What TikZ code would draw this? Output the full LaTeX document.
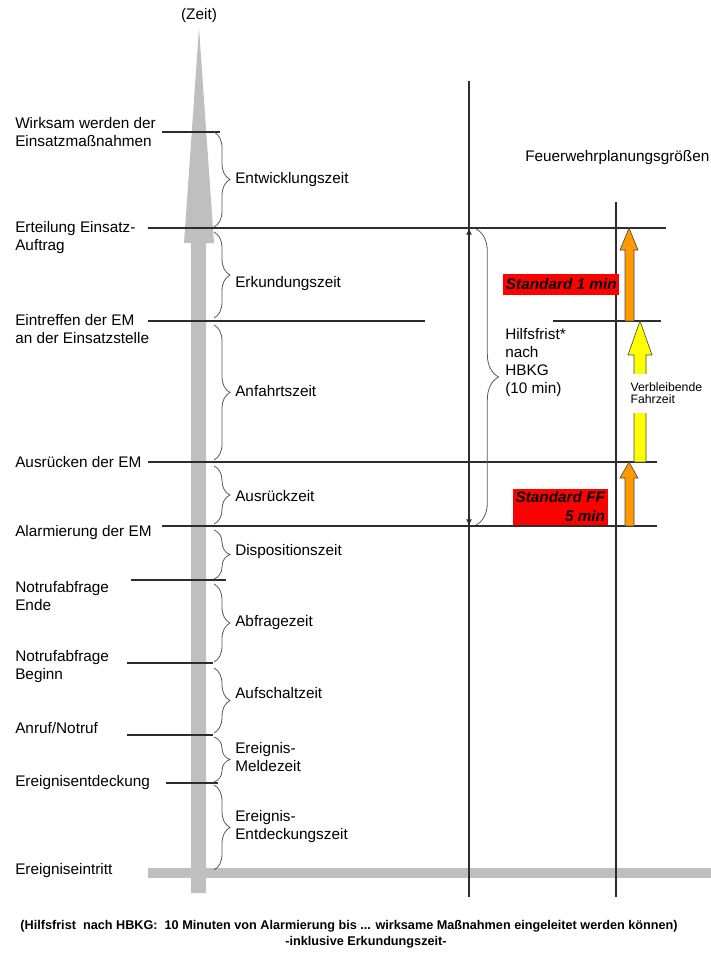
\documentclass[tikz,border=0pt]{standalone}
\usepackage{fontspec}
\setmainfont{Liberation Sans}
\usetikzlibrary{decorations.pathreplacing,arrows.meta}

\definecolor{zeitgrau}{RGB}{191,191,191}
\definecolor{linie}{RGB}{45,45,45}
\definecolor{pfeilorange}{RGB}{255,153,0}
\definecolor{pfeilgelb}{RGB}{255,255,0}

\tikzset{
    zeitlinie/.style={draw=linie, line width=1pt},
    klammer/.style={draw=black!65, line width=.6pt, decorate,
        decoration={brace, amplitude=12pt}},
    marke/.style={anchor=west, align=left, inner sep=0pt},
    dauer/.style={anchor=west, align=left, inner sep=0pt},
    standard/.style={fill=red, inner sep=2pt,
        font=\fontsize{11.5}{14.25}\selectfont\bfseries\itshape},
    blockpfeil/.style={draw=black!70, line width=.5pt},
}

\begin{document}
\begin{tikzpicture}[x=.75pt, y=-.75pt,
    every node/.style={font=\fontsize{11.5}{13.5}\selectfont}]
    \useasboundingbox (0,0) rectangle (711,954);

    % Zeitachse als grauer Pfeil, unten die Grundlinie.
    \fill[zeitgrau] (199,28) -- (214,243) -- (206,243) -- (206,893)
        -- (191,893) -- (191,243) -- (184,243) -- cycle;
    \fill[zeitgrau] (148,868) rectangle (711,878);
    \node (zeit) at (199,16) {(Zeit)};

    % Senkrechte Linien.
    \draw[zeitlinie] (469,81) -- (469,897);
    \draw[zeitlinie] (616,202) -- (616,897);

    % Zeitpunkte.
    \draw[zeitlinie] (162,132) -- (220,132);
    \draw[zeitlinie] (148,228) -- (666,228);
    \draw[zeitlinie] (148,321) -- (425,321) (553,321) -- (661,321);
    \draw[zeitlinie] (148,462) -- (657,462);
    \draw[zeitlinie] (162,526) -- (657,526);
    \draw[zeitlinie] (131,580) -- (226,580);
    \draw[zeitlinie] (127,663) -- (213,663);
    \draw[zeitlinie] (127,735) -- (213,735);
    \draw[zeitlinie] (166,783) -- (218,783);

    \node[marke] (wirksam) at (15,132) {Wirksam werden der\\Einsatzmaßnahmen};
    \node[marke] (erteilung) at (15,238) {Erteilung Einsatz-\\Auftrag};
    \node[marke] (eintreffen) at (15,329) {Eintreffen der EM\\an der Einsatzstelle};
    \node[marke] (ausruecken) at (15,462) {Ausrücken der EM};
    \node[marke] (alarmierung) at (15,533) {Alarmierung der EM};
    \node[marke] (ende) at (15,596) {Notrufabfrage\\Ende};
    \node[marke] (beginn) at (15,667) {Notrufabfrage\\Beginn};
    \node[marke] (anruf) at (15,728) {Anruf/Notruf};
    \node[marke] (entdeckung) at (15,783) {Ereignisentdeckung};
    \node[marke] (eintritt) at (15,871) {Ereigniseintritt};

    % Zeitabschnitte mit Klammern.
    \draw[klammer] (214,132) -- (214,227);
    \draw[klammer] (214,232) -- (214,318);
    \draw[klammer] (214,325) -- (214,460);
    \draw[klammer] (214,466) -- (214,524);
    \draw[klammer] (214,530) -- (214,579);
    \draw[klammer] (214,584) -- (214,662);
    \draw[klammer] (214,668) -- (214,733);
    \draw[klammer] (214,737) -- (214,782);
    \draw[klammer] (214,785) -- (214,870);

    \node[dauer] (entwicklungszeit) at (235,180) {Entwicklungszeit};
    \node[dauer] (erkundungszeit) at (235,284) {Erkundungszeit};
    \node[dauer] (anfahrtszeit) at (235,391) {Anfahrtszeit};
    \node[dauer] (ausrueckzeit) at (235,496) {Ausrückzeit};
    \node[dauer] (dispositionszeit) at (235,552) {Dispositionszeit};
    \node[dauer] (abfragezeit) at (235,623) {Abfragezeit};
    \node[dauer] (aufschaltzeit) at (235,693) {Aufschaltzeit};
    \node[dauer] (meldezeit) at (235,757) {Ereignis-\\Meldezeit};
    \node[dauer] (entdeckungszeit) at (235,827) {Ereignis-\\Entdeckungszeit};

    % Hilfsfrist.
    \coordinate (hf-oben) at (469,228);
    \coordinate (hf-unten) at (469,526);
    \draw[zeitlinie, {Latex[length=5pt,width=4.5pt]}-{Latex[length=5pt,width=4.5pt]}]
        (hf-oben) -- (hf-unten);
    \draw[klammer, decoration={amplitude=17pt}] (476,229) -- (476,525);
    \node[dauer] (hilfsfrist) at (505,363) {Hilfsfrist*\\nach\\HBKG\\(10 min)};

    % Planungsgrößen.
    \node[anchor=west, inner sep=0pt] (planung) at (525,158) {Feuerwehrplanungsgrößen};
    \node[standard, anchor=west, minimum height=15.75pt, inner xsep=2pt]
        (standard1) at (503,284) {Standard 1 min};
    \node[standard, anchor=east, align=right] (standardff) at (608,507)
        {Standard FF\\5 min};

    \filldraw[blockpfeil, fill=pfeilorange] (629,228) -- (638,250) -- (634,250)
        -- (634,321) -- (625,321) -- (625,250) -- (620,250) -- cycle;
    \filldraw[blockpfeil, fill=pfeilgelb] (640,321) -- (652,355) -- (646,355)
        -- (646,462) -- (634,462) -- (634,355) -- (628,355) -- cycle;
    \filldraw[blockpfeil, fill=pfeilorange] (629,462) -- (638,478) -- (634,478)
        -- (634,526) -- (625,526) -- (625,478) -- (620,478) -- cycle;
    \node[anchor=west, fill=white, align=left, inner xsep=1pt, inner ysep=6.5pt,
        font=\fontsize{9.2}{9.5}\selectfont] (fahrzeit) at (629,393)
        {Verbleibende\\Fahrzeit};

    % Fußnote.
    \node[font=\fontsize{9.5}{12}\selectfont\bfseries] (fussnote) at (349,926)
        {(Hilfsfrist\ \ nach HBKG:\ \ 10 Minuten von Alarmierung bis ... wirksame Maßnahmen eingeleitet werden können)};
    \node[font=\fontsize{9.5}{12}\selectfont\bfseries] (erkundung) at (366,942)
        {-inklusive Erkundungszeit-};
\end{tikzpicture}
\end{document}
